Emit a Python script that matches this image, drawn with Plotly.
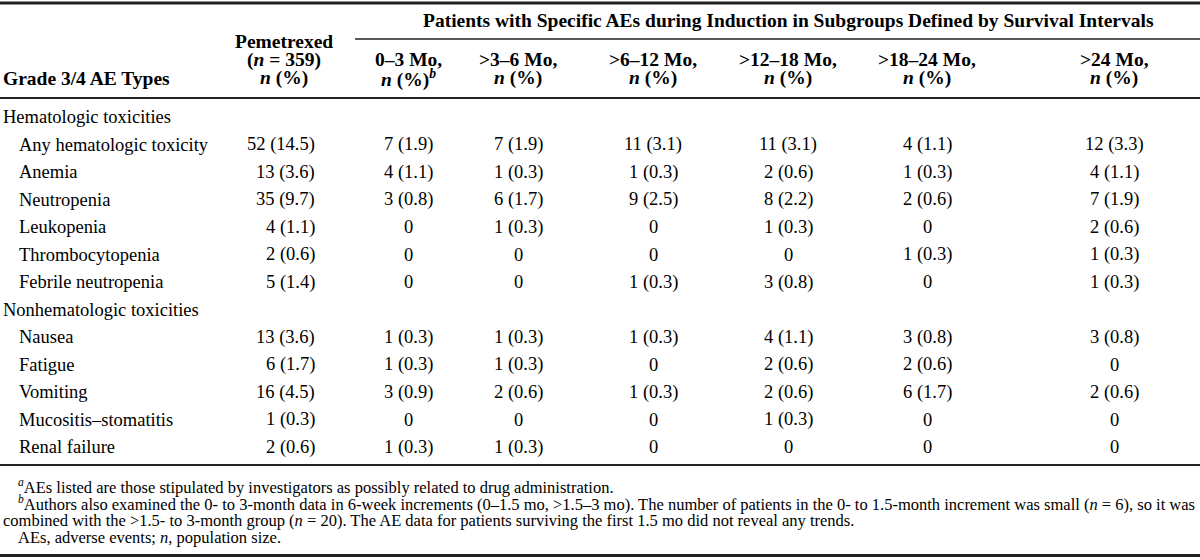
import plotly.graph_objects as go

# ---------------- data ----------------
row_labels = ["Hematologic toxicities", "Any hematologic toxicity", "Anemia", "Neutropenia",
              "Leukopenia", "Thrombocytopenia", "Febrile neutropenia",
              "Nonhematologic toxicities", "Nausea", "Fatigue", "Vomiting",
              "Mucositis–stomatitis", "Renal failure"]
is_group = [True, False, False, False, False, False, False,
            True, False, False, False, False, False]

pemetrexed_n = [None, 52, 13, 35, 4, 2, 5, None, 13, 6, 16, 1, 2]
pemetrexed_pct = [None, 14.5, 3.6, 9.7, 1.1, 0.6, 1.4, None, 3.6, 1.7, 4.5, 0.3, 0.6]

mo_0_3_n = [None, 7, 4, 3, 0, 0, 0, None, 1, 1, 3, 0, 1]
mo_0_3_pct = [None, 1.9, 1.1, 0.8, 0, 0, 0, None, 0.3, 0.3, 0.9, 0, 0.3]
mo_3_6_n = [None, 7, 1, 6, 1, 0, 0, None, 1, 1, 2, 0, 1]
mo_3_6_pct = [None, 1.9, 0.3, 1.7, 0.3, 0, 0, None, 0.3, 0.3, 0.6, 0, 0.3]
mo_6_12_n = [None, 11, 1, 9, 0, 0, 1, None, 1, 0, 1, 0, 0]
mo_6_12_pct = [None, 3.1, 0.3, 2.5, 0, 0, 0.3, None, 0.3, 0, 0.3, 0, 0]
mo_12_18_n = [None, 11, 2, 8, 1, 0, 3, None, 4, 2, 2, 1, 0]
mo_12_18_pct = [None, 3.1, 0.6, 2.2, 0.3, 0, 0.8, None, 1.1, 0.6, 0.6, 0.3, 0]
mo_18_24_n = [None, 4, 1, 2, 0, 1, 0, None, 3, 2, 6, 0, 0]
mo_18_24_pct = [None, 1.1, 0.3, 0.6, 0, 0.3, 0, None, 0.8, 0.6, 1.7, 0, 0]
mo_24_n = [None, 12, 4, 7, 2, 1, 1, None, 3, 0, 2, 0, 0]
mo_24_pct = [None, 3.3, 1.1, 1.9, 0.6, 0.3, 0.3, None, 0.8, 0, 0.6, 0, 0]

span_header = "Patients with Specific AEs during Induction in Subgroups Defined by Survival Intervals"
first_col_header = "Grade 3/4 AE Types"
pem_header = ["Pemetrexed", "(<i>n</i> = 359)", "<i>n</i> (%)"]
interval_headers = ["0–3 Mo,", ">3–6 Mo,", ">6–12 Mo,", ">12–18 Mo,", ">18–24 Mo,", ">24 Mo,"]
interval_subheaders = ["<i>n</i> (%)<sup><i>b</i></sup>", "<i>n</i> (%)", "<i>n</i> (%)",
                       "<i>n</i> (%)", "<i>n</i> (%)", "<i>n</i> (%)"]

footnotes = [
    "<sup><i>a</i></sup>AEs listed are those stipulated by investigators as possibly related to drug administration.",
    "<sup><i>b</i></sup>Authors also examined the 0- to 3-month data in 6-week increments (0–1.5 mo, >1.5–3 mo). "
    "The number of patients in the 0- to 1.5-month increment was small (<i>n</i> = 6), so it was",
    "combined with the >1.5- to 3-month group (<i>n</i> = 20). The AE data for patients surviving the first 1.5 mo did not reveal any trends.",
    "AEs, adverse events; <i>n</i>, population size.",
]
footnote_indent = [True, True, False, True]

# ---------------- layout constants ----------------
FONT = "Liberation Serif, Times New Roman, serif"
BODY = 18.5
HEAD = 19.5
FOOT = 16.5
W, H = 1200, 560

interval_n = [mo_0_3_n, mo_3_6_n, mo_6_12_n, mo_12_18_n, mo_18_24_n, mo_24_n]
interval_pct = [mo_0_3_pct, mo_3_6_pct, mo_6_12_pct, mo_12_18_pct, mo_18_24_pct, mo_24_pct]
interval_x = [408, 518, 653, 788, 927, 1114]
pem_x_center = 284
pem_x_right = 317

row_y0 = 117
row_step = 27.5


def fmt(n, p):
    if n is None:
        return ""
    if n == 0:
        return "0"
    return f"{n} ({p})"


fig = go.Figure()
fig.add_trace(go.Scatter(x=[0, W], y=[0, H], mode="markers",
                         marker=dict(opacity=0), hoverinfo="skip", showlegend=False))

ann = []


def add(text, x, y, size=BODY, xanchor="center", bold=False):
    if bold:
        text = f"<b>{text}</b>"
    ann.append(dict(text=text, x=x, y=y, xref="x", yref="y", showarrow=False,
                    xanchor=xanchor, yanchor="middle",
                    font=dict(family=FONT, size=size, color="#000")))


# header
add(span_header, 788, 20, size=HEAD, bold=True)
add(first_col_header, 1, 78, size=HEAD, xanchor="left", bold=True)
for i, t in enumerate(pem_header):
    add(t, pem_x_center, 41 + i * 18.5, size=HEAD, bold=True)
for x, t1, t2 in zip(interval_x, interval_headers, interval_subheaders):
    add(t1, x, 59.5, size=HEAD, bold=True)
    add(t2, x, 78, size=HEAD, bold=True)

# body
for i, lab in enumerate(row_labels):
    y = row_y0 + i * row_step
    add(lab, 1 if is_group[i] else 17, y, xanchor="left")
    if is_group[i]:
        continue
    add(fmt(pemetrexed_n[i], pemetrexed_pct[i]), pem_x_right, y, xanchor="right")
    for x, ns, ps in zip(interval_x, interval_n, interval_pct):
        add(fmt(ns[i], ps[i]), x, y)

# footnotes
for i, t in enumerate(footnotes):
    add(t, 16 if footnote_indent[i] else 1, 486 + i * 17.3, size=FOOT, xanchor="left")

# rules
shapes = []


def rule(y, x0=0, x1=W, w=2.0, c="#222"):
    shapes.append(dict(type="line", xref="x", yref="y", x0=x0, x1=x1, y0=y, y1=y,
                       line=dict(color=c, width=w)))


rule(3, w=3)
rule(39, x0=355, w=1.5)
rule(98, w=2)
rule(465, w=2)
rule(555.5, w=3)

fig.update_layout(
    width=W, height=H,
    margin=dict(l=0, r=0, t=0, b=0),
    paper_bgcolor="white", plot_bgcolor="white",
    xaxis=dict(range=[0, W], visible=False, fixedrange=True),
    yaxis=dict(range=[H, 0], visible=False, fixedrange=True),
    annotations=ann, shapes=shapes, showlegend=False,
)

fig.write_html("out.html", config={"displayModeBar": False},
               post_script="document.body.style.margin='0';")
